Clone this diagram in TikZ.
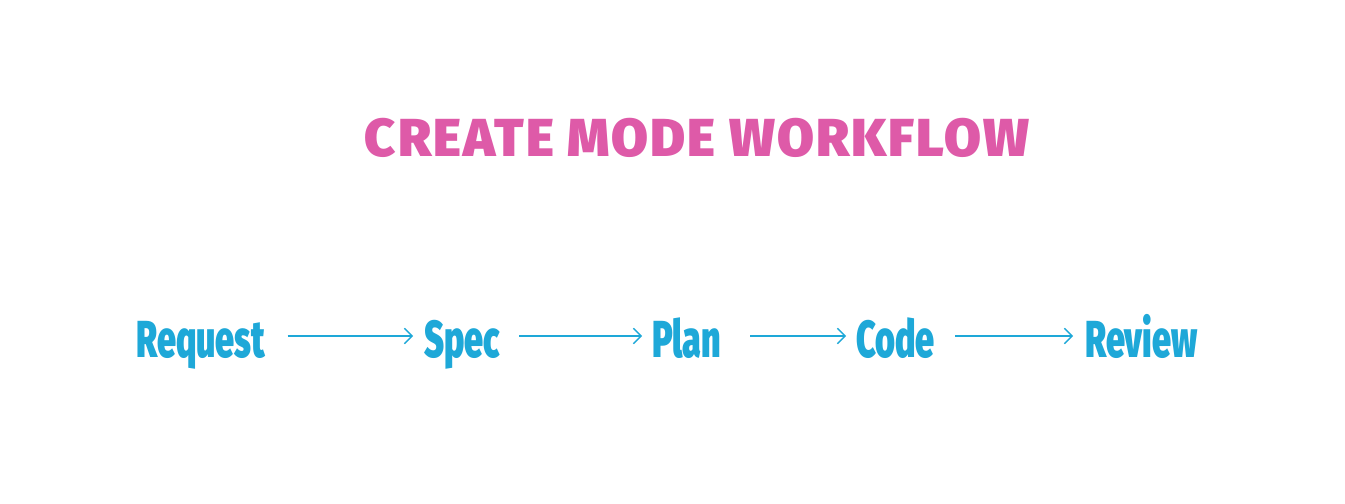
\documentclass[tikz,border=0pt]{standalone}
\usepackage{fontspec}
\usetikzlibrary{arrows.meta,calc}
\newfontfamily\titlefont{Fira Sans Black}[LetterSpace=3.8]
\newfontfamily\condfont{Fira Sans Black}[FakeStretch=0.655]
\definecolor{titlepink}{HTML}{DE5AA8}
\definecolor{stepblue}{HTML}{1EA8D8}
\tikzset{
  titlestyle/.style={inner sep=0pt, anchor=base, text=titlepink, font=\titlefont\fontsize{38pt}{40pt}\selectfont},
  stepnode/.style={inner sep=0pt, anchor=base west, text=stepblue, font=\condfont\fontsize{37pt}{40pt}\selectfont},
  flowarrow/.style={draw=stepblue, line width=0.9pt, -{Straight Barb[length=5.5pt,width=11pt,line width=0.9pt]}}
}
\begin{document}
\begin{tikzpicture}[x=0.025cm,y=-0.025cm]
\useasboundingbox[fill=white] (0,0) rectangle (1345,504);
\node[titlestyle] (title) at (697,157) {CREATE MODE WORKFLOW};
\node[stepnode] (req) at (136,357) {Request};
\node[stepnode] (spec) at (424,357) {Spec};
\node[stepnode] (plan) at (652,357) {Plan};
\node[stepnode] (code) at (856,357) {Code};
\node[stepnode] (rev) at (1085,357) {Review};
\draw[flowarrow] ($(req.base east)+(22,-21)$) -- ($(spec.base west)+(-11,-21)$);
\draw[flowarrow] ($(spec.base east)+(19,-21)$) -- ($(plan.base west)+(-10,-21)$);
\draw[flowarrow] ($(plan.base east)+(29,-21)$) -- ($(code.base west)+(-10,-21)$);
\draw[flowarrow] ($(code.base east)+(20,-21)$) -- ($(rev.base west)+(-12,-21)$);
\end{tikzpicture}
\end{document}
